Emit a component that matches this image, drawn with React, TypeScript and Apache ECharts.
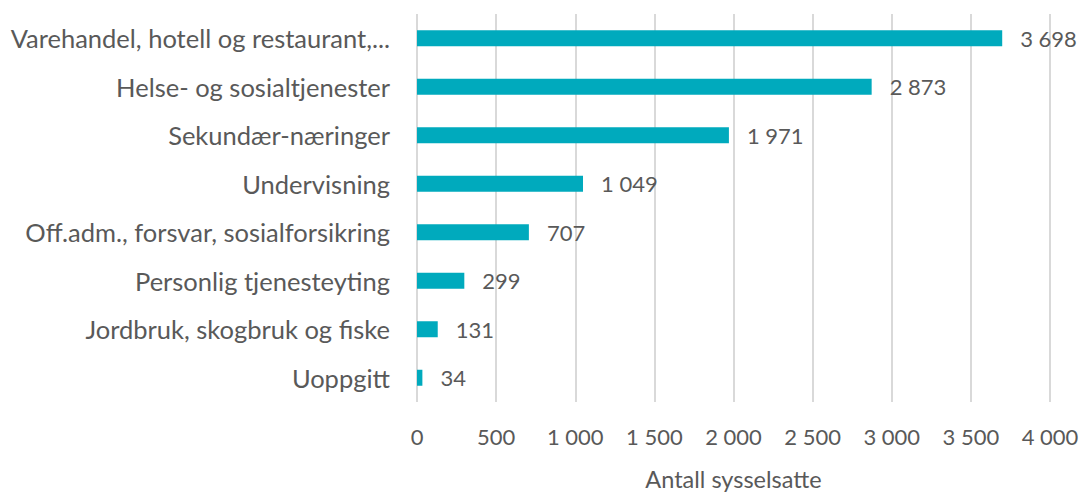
import React, { useEffect, useRef } from "react";
import * as echarts from "echarts";

const categories = [
  "Varehandel, hotell og restaurant,...",
  "Helse- og sosialtjenester",
  "Sekundær-næringer",
  "Undervisning",
  "Off.adm., forsvar, sosialforsikring",
  "Personlig tjenesteyting",
  "Jordbruk, skogbruk og fiske",
  "Uoppgitt",
];
const values = [3698, 2873, 1971, 1049, 707, 299, 131, 34];
const axisTitle = "Antall sysselsatte";

const fmt = (v: number) => String(v).replace(/\B(?=(\d{3})+(?!\d))/g, " ");

export default function App() {
  const ref = useRef<HTMLDivElement>(null);
  useEffect(() => {
    const chart = echarts.init(ref.current!, null, { renderer: "svg" });
    chart.setOption({
      animation: false,
      textStyle: { fontFamily: "Lato" },
      grid: { left: 417, right: 35, top: 14, bottom: 74, containLabel: false },
      xAxis: {
        type: "value",
        min: 0,
        max: 4000,
        interval: 500,
        name: axisTitle,
        nameLocation: "middle",
        nameGap: 65,
        nameTextStyle: { fontSize: 23.5, color: "#595959", fontFamily: "Lato" },
        axisLine: { show: false },
        axisTick: { show: false },
        axisLabel: {
          fontSize: 22,
          color: "#595959",
          margin: 23,
          fontFamily: "Lato",
          formatter: (v: number) => fmt(v),
        },
        splitLine: { lineStyle: { color: "#d9d9d9", width: 2 } },
      },
      yAxis: {
        type: "category",
        data: categories,
        inverse: true,
        axisLine: { show: false },
        axisTick: { show: false },
        axisLabel: { fontSize: 25.5, color: "#595959", margin: 27, fontFamily: "Lato" },
      },
      series: [
        {
          type: "bar",
          data: values,
          barWidth: 16,
          itemStyle: { color: "#00aabd" },
          label: {
            show: true,
            position: "right",
            distance: 18,
            fontSize: 22,
            color: "#595959",
            fontFamily: "Lato",
            formatter: (p: any) => fmt(p.value),
          },
        },
      ],
    });
    return () => chart.dispose();
  }, []);
  return <div ref={ref} style={{ width: 1085, height: 496, position: "absolute", left: 0, top: 0 }} />;
}
